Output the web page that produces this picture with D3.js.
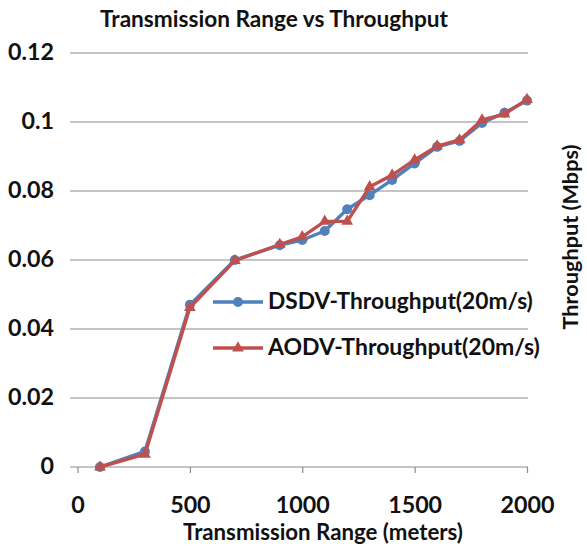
<!DOCTYPE html>
<html><head><meta charset="utf-8">
<script src="https://cdn.jsdelivr.net/npm/d3@7"></script>
<style>body{margin:0;background:#fff;} svg{display:block;} text{font-family:Lato, "Open Sans", sans-serif;}</style>
</head><body><svg id="c" width="587" height="546"></svg>
<script>
const ranges = [100,300,500,700,900,1000,1100,1200,1300,1400,1500,1600,1700,1800,1900,2000];
const dsdv = [0,0.0045,0.047,0.060,0.0643,0.0658,0.0684,0.0747,0.0788,0.0832,0.088,0.0928,0.0945,0.0997,0.1027,0.1062];
const aodv = [0,0.0037,0.0462,0.0598,0.0645,0.0667,0.0712,0.0712,0.0812,0.0846,0.089,0.093,0.0948,0.1006,0.1023,0.1065];
const xTicks = [0,500,1000,1500,2000];
const yTicks = [0,0.02,0.04,0.06,0.08,0.1,0.12];
const seriesNames = ["DSDV-Throughput(20m/s)","AODV-Throughput(20m/s)"];
const colors = ["#4F81BD","#C0504D"];

const svg = d3.select("#c");
const x = d3.scaleLinear().domain([0,2000]).range([77.5,527]);
const y = d3.scaleLinear().domain([0,0.12]).range([467,53]);
const gridLeft = 70;

// scale a text's font-size so that its rendered width matches a target width
function fit(sel, target){
  const fs = +sel.attr("font-size");
  const w = sel.node().getComputedTextLength();
  sel.attr("font-size", fs*target/w);
  return sel;
}

// gridlines
svg.append("g").selectAll("line").data(yTicks).join("line")
  .attr("x1",gridLeft).attr("x2",x(2000)+1)
  .attr("y1",d=>y(d)).attr("y2",d=>y(d))
  .attr("stroke","#8c8c8c").attr("stroke-width",1.2);

// y labels
const yl = svg.append("g").selectAll("text").data(yTicks).join("text")
  .attr("x",54).attr("y",d=>y(d)+7).attr("text-anchor","end")
  .attr("font-size",17).attr("font-weight","bold").attr("fill","#111")
  .text(d=>d===0?"0":d3.format(".2~f")(d));
const ylTop = yl.filter(d=>d===0.12);
const yfs = 17*46/ylTop.node().getComputedTextLength();
yl.attr("font-size",yfs);

// x axis
const xa = svg.append("g").attr("transform","translate(0,467)")
  .call(d3.axisBottom(x).tickValues(xTicks).tickSize(6).tickFormat(d3.format("d")));
xa.select(".domain").remove();
xa.selectAll("line").attr("stroke","#8c8c8c").attr("stroke-width",1.2);
xa.selectAll("text").attr("font-size",yfs).attr("font-weight","bold").attr("fill","#111")
  .attr("font-family","Lato, sans-serif").attr("dy",null).attr("y",46);

// series
const data = [dsdv, aodv];
const line = d3.line().x((d,i)=>x(ranges[i])).y(d=>y(d));
data.forEach((s,k)=>{
  svg.append("path").datum(s).attr("d",line).attr("fill","none")
    .attr("stroke",colors[k]).attr("stroke-width",3.4).attr("stroke-linejoin","round");
  if(k===0){
    svg.append("g").selectAll("circle").data(s).join("circle")
      .attr("cx",(d,i)=>x(ranges[i])).attr("cy",d=>y(d)).attr("r",5).attr("fill",colors[k]);
  } else {
    svg.append("g").selectAll("path").data(s).join("path")
      .attr("d",d3.symbol().type(d3.symbolTriangle).size(60))
      .attr("transform",(d,i)=>`translate(${x(ranges[i])},${y(d)})`).attr("fill",colors[k]);
  }
});

// legend
const leg = svg.append("g");
const legW = [265,272];
[302,348].forEach((ly,k)=>{
  leg.append("line").attr("x1",213).attr("x2",263).attr("y1",ly).attr("y2",ly)
    .attr("stroke",colors[k]).attr("stroke-width",3.4);
  if(k===0) leg.append("circle").attr("cx",238).attr("cy",ly).attr("r",5).attr("fill",colors[k]);
  else leg.append("path").attr("d",d3.symbol().type(d3.symbolTriangle).size(60)())
    .attr("transform",`translate(238,${ly})`).attr("fill",colors[k]);
  fit(leg.append("text").attr("x",268).attr("y",ly+7).attr("font-size",18).attr("font-weight","bold")
    .attr("fill","#111").text(seriesNames[k]), legW[k]);
});

// titles
fit(svg.append("text").attr("x",274).attr("y",27).attr("text-anchor","middle")
  .attr("font-size",19).attr("font-weight","bold").attr("fill","#111").text("Transmission Range vs Throughput"),348);
fit(svg.append("text").attr("x",323).attr("y",540).attr("text-anchor","middle")
  .attr("font-size",18).attr("font-weight","bold").attr("fill","#111").text("Transmission Range (meters)"),280);
fit(svg.append("text").attr("transform","translate(578,237) rotate(-90)").attr("text-anchor","middle")
  .attr("font-size",17).attr("font-weight","bold").attr("fill","#111").text("Throughput (Mbps)"),185);
</script></body></html>
